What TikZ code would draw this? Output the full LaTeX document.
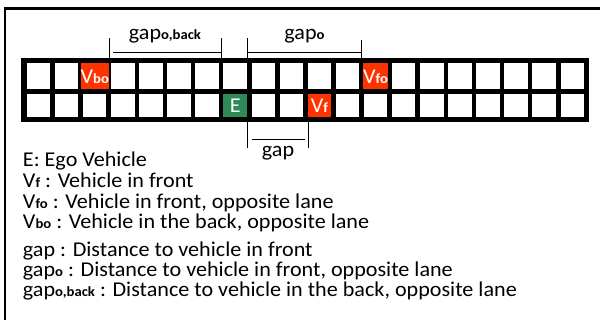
\documentclass[tikz,border=0pt]{standalone}
\usepackage{fontspec}
\setmainfont[FakeStretch=1.05]{Carlito}
\definecolor{vehred}{RGB}{255,51,0}
\definecolor{egogreen}{RGB}{46,139,87}
\newcommand{\lblfont}{\fontsize{15.8}{19}\selectfont}
\newcommand{\sbs}[1]{{\fontsize{10.5}{11}\selectfont\bfseries #1}}

\begin{document}
\begin{tikzpicture}[x=0.75pt,y=0.75pt,yscale=-1,xscale=1,
  cell/.style={fill=white, inner sep=0pt, minimum width=17.6pt},
  toprow/.style={cell, minimum height=19.5pt},
  botrow/.style={cell, minimum height=17.5pt},
  car/.style={text=white, font=\lblfont},
  tick/.style={line width=0.75pt},
  lbl/.style={anchor=base, inner sep=0pt, font=\lblfont},
  txt/.style={anchor=base west, inner sep=0pt, font=\lblfont}]
  \useasboundingbox (0,0) rectangle (600,320);

  %Frame
  \draw [line width=2pt] (5,320) -- (5,8.5) -- (600,8.5) ;

  %Shape: Road
  \fill (21,58.3) rectangle (589,121.7) ;
  \coordinate (roadtop) at (0,58.3) ;
  \coordinate (roadbot) at (0,121.7) ;
  \coordinate (bartop) at (0,52.3) ;
  \coordinate (barbot) at (0,139.3) ;
  \foreach \k in {0,...,19}{
    \node [toprow] (a\k) at ({38.55+28.09*\k},76.3) {} ;
    \node [botrow] (b\k) at ({38.55+28.09*\k},105.7) {} ;
  }

  %Vehicles
  \node [toprow, fill=vehred, car] (vbo) at (a2) {V\sbs{bo}} ;
  \node [toprow, fill=vehred, car] (vfo) at (a12) {V\sbs{fo}} ;
  \node [botrow, fill=egogreen, car] (ego) at (b7) {E} ;
  \node [botrow, fill=vehred, car] (vf) at (b10) {V\sbs{f}} ;

  %gap o,back
  \draw [tick] (vbo.east |- roadtop) -- ++(0,-20) ;
  \draw [tick] ([xshift=-1.1pt]a7.west |- roadtop) -- ++(0,-20) ;
  \draw [tick] ([xshift=3pt]vbo.east |- bartop) -- ([xshift=-1.1pt]a7.west |- bartop) ;
  %gap o
  \draw [tick] (a7.east |- roadtop) -- ++(0,-20) ;
  \draw [tick] ([xshift=-0.8pt]vfo.west |- roadtop) -- ++(0,-18.3) ;
  \draw [tick] (a7.east |- bartop) -- ([xshift=-0.8pt]vfo.west |- bartop) ;
  %gap
  \draw [tick] (ego.east |- roadbot) -- ++(0,26.6) ;
  \draw [tick] ([xshift=1.1pt]vf.west |- roadbot) -- ++(0,26.6) ;
  \draw [tick] ([xshift=3.5pt]ego.east |- barbot) -- ([xshift=-2pt]vf.west |- barbot) ;

  % Text Node
  \node [lbl] (gobl) at (165,39.5) {gap\sbs{o,back}} ;
  \node [lbl] (gol) at (304.5,40) {gap\sbs{o}} ;
  \node [lbl] (gapl) at (278,157) {gap} ;

  % Legend
  \node [txt] (l1) at (22.7,166.7) {E: Ego Vehicle} ;
  \node [txt] (l2) at (22.7,187.7) {V\sbs{f} : Vehicle in front} ;
  \node [txt] (l3) at (22.7,208.3) {V\sbs{fo} : Vehicle in front, opposite lane} ;
  \node [txt] (l4) at (22.7,228.3) {V\sbs{bo} : Vehicle in the back, opposite lane} ;
  \node [txt] (l5) at (22.7,256.7) {gap : Distance to vehicle in front} ;
  \node [txt] (l6) at (22.7,276.7) {gap\sbs{o} : Distance to vehicle in front, opposite lane} ;
  \node [txt] (l7) at (22.7,296.7) {gap\sbs{o,back} : Distance to vehicle in the back, opposite lane} ;

\end{tikzpicture}
\end{document}
